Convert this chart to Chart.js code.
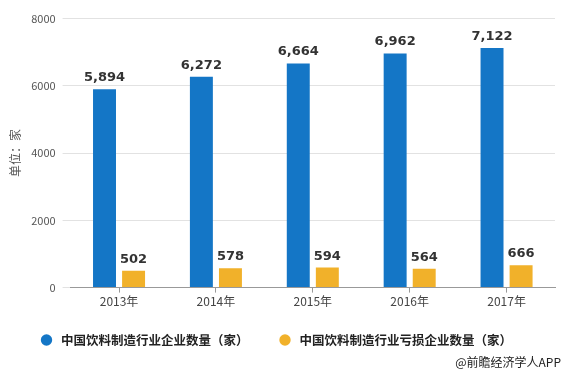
<!DOCTYPE html>
<html>
<head>
<meta charset="utf-8">
<script src="https://cdn.jsdelivr.net/npm/chart.js@4/dist/chart.umd.min.js"></script>
<style>
  html, body { margin: 0; padding: 0; background: #fff; }
  #wrap { width: 567px; height: 373px; }
</style>
</head>
<body>
<div id="wrap"><canvas id="bar" width="567" height="373"></canvas></div>
<script>
const years = ["2013年", "2014年", "2015年", "2016年", "2017年"]
const companies = [5894, 6272, 6664, 6962, 7122]
const lossMaking = [502, 578, 594, 564, 666]
const yTicks = [0, 2000, 4000, 6000, 8000]
const seriesNames = ["中国饮料制造行业企业数量（家）", "中国饮料制造行业亏损企业数量（家）"]
const credit = "@前瞻经济学人APP"

const font = "'Microsoft YaHei', 'Noto Sans CJK SC', sans-serif"

// value labels above each bar
const valueLabels = {
    id: 'valueLabels',
    afterDatasetsDraw(chart) {
        const ctx = chart.ctx
        ctx.save()
        ctx.font = "bold 13px 'DejaVu Sans', sans-serif"
        ctx.fillStyle = "#333"
        ctx.textAlign = "center"
        ctx.textBaseline = "alphabetic"
        chart.data.datasets.forEach((ds, i) => {
            chart.getDatasetMeta(i).data.forEach((bar, j) => {
                ctx.fillText(ds.data[j].toLocaleString("en-US"), bar.x, bar.y - 8)
            })
        })
        ctx.restore()
    }
}

// legend row + source line under the axis
const bottomLegend = {
    id: 'bottomLegend',
    afterDraw(chart) {
        const ctx = chart.ctx
        ctx.save()
        ctx.textBaseline = "middle"
        ctx.font = "bold 12.5px " + font
        let x = 46.5
        chart.data.datasets.forEach(ds => {
            ctx.fillStyle = ds.backgroundColor
            ctx.beginPath()
            ctx.arc(x, 340, 5.7, 0, Math.PI * 2)
            ctx.fill()
            ctx.fillStyle = "#222"
            ctx.textAlign = "left"
            ctx.fillText(ds.label, x + 14.5, 340)
            x += 14.5 + ctx.measureText(ds.label).width + 36.5
        })
        ctx.font = "12px " + font
        ctx.textAlign = "right"
        ctx.fillStyle = "#222"
        ctx.fillText(credit, 561, 362.5)
        ctx.restore()
    }
}

window.onload = function () {
    let context = document.querySelector("#bar").getContext('2d')
    new Chart(context, {
        type: 'bar',
        data: {
            labels: years,
            datasets: [{
                label: seriesNames[0],
                data: companies,
                backgroundColor: "#1476c6"
            }, {
                label: seriesNames[1],
                data: lossMaking,
                backgroundColor: "#f1b12a"
            }]
        },
        options: {
            responsive: false,
            animation: false,
            categoryPercentage: 0.6,
            barPercentage: 0.79,
            layout: { padding: { left: 8, right: 12, top: 18.5, bottom: 62 } },
            scales: {
                x: {
                    grid: { display: true, drawOnChartArea: false, offset: false, tickLength: 5, color: "#999" },
                    border: { color: "#999" },
                    ticks: { color: "#444", font: { family: font, size: 12 }, padding: 2 }
                },
                y: {
                    min: 0,
                    max: 8000,
                    afterBuildTicks(scale) { scale.ticks = yTicks.map(v => ({ value: v })) },
                    afterFit(scale) { scale.width = 62.6 },
                    grid: { color: "#e2e2e2", tickLength: 8 },
                    border: { display: false },
                    ticks: { color: "#555", font: { family: font, size: 11 }, padding: 7, callback: v => String(v) },
                    title: { display: true, text: "单位：家", color: "#555", font: { family: font, size: 12 }, padding: 0 }
                }
            },
            plugins: {
                legend: { display: false },
                tooltip: { enabled: false }
            }
        },
        plugins: [valueLabels, bottomLegend]
    })
}
</script>
</body>
</html>
